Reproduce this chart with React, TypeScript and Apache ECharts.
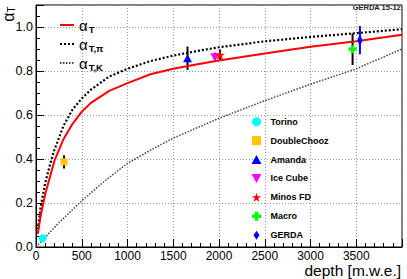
import React, { useEffect, useRef } from 'react';
import * as echarts from 'echarts';

// ---- data ----
const curveDepth = [20, 50, 100, 150, 200, 300, 400, 500, 600, 800, 1000, 1250, 1500, 1750, 2000, 2500, 3000, 3500, 4000];
const alphaT = [0.06, 0.14, 0.24, 0.315, 0.39, 0.49, 0.56, 0.615, 0.655, 0.71, 0.745, 0.785, 0.81, 0.83, 0.848, 0.88, 0.91, 0.935, 0.965];
const alphaTpi = [0.08, 0.18, 0.29, 0.37, 0.44, 0.55, 0.625, 0.675, 0.715, 0.775, 0.81, 0.845, 0.87, 0.89, 0.908, 0.935, 0.955, 0.972, 0.99];
const kaonDepth = [0, 250, 500, 750, 1000, 1250, 1500, 2000, 2500, 3000, 3500, 4000];
const alphaTK = [0, 0.11, 0.21, 0.3, 0.38, 0.44, 0.495, 0.585, 0.665, 0.74, 0.81, 0.9];

const experiments = ['Torino', 'DoubleChooz', 'Amanda', 'Ice Cube', 'Minos FD', 'Macro', 'GERDA'];
const expDepth = [73, 306, 1656, 1955, 2010, 3460, 3540];
const expAlpha = [0.04, 0.387, 0.858, 0.862, 0.873, 0.899, 0.94];
const expErr = [0, 0.03, 0.053, 0.021, 0.025, 0.072, 0.064];

const curveNames = ['aT', 'aTpi', 'aTK'];
const curveLabels = ['{a|α}{s|T}', '{a|α}{s|T,π}', '{a|α}{s|T,K}'];

const xTickStep = 500;
const yTickStep = 0.2;

// ---- styles ----
const expColor = ['#00ffff', '#ffc400', '#0000ff', '#ff00ff', '#ff0000', '#00ff00', '#0000ff'];
const expSymbol = [
  'circle',
  'path://M0,0H10V10H0Z',
  'path://M5,0L10,9L0,9Z',
  'path://M0,0L10,0L5,9Z',
  'path://M5,0L6.2,3.6L10,3.6L6.9,5.8L8.1,9.5L5,7.2L1.9,9.5L3.1,5.8L0,3.6L3.8,3.6Z',
  'path://M3,0H7V3H10V7H7V10H3V7H0V3H3Z',
  'path://M4,0L8,6L4,12L0,6Z',
];
const expSize: any[] = [8, 7, 9, 9, 10, 8, [8, 12]];
const FONT = 'Liberation Sans, Arial, Helvetica, sans-serif';

const lineLegend = (name: string, top: number) => ({
  data: [name],
  orient: 'vertical',
  left: 59,
  top,
  padding: 0,
  itemGap: 0,
  itemWidth: 14,
  itemHeight: 10,
  itemStyle: { color: 'rgba(0,0,0,0)', borderWidth: 0, opacity: 0 },
  formatter: (n: string) => curveLabels[curveNames.indexOf(n)],
  textStyle: {
    color: '#000',
    fontFamily: FONT,
    rich: {
      a: { fontSize: 15, fontFamily: FONT, color: '#000', lineHeight: 19 },
      s: { fontSize: 9.5, fontWeight: 'bold', fontFamily: FONT, color: '#000', lineHeight: 10, verticalAlign: 'bottom', padding: [0, 0, 0, 1] },
    },
  },
});

export default function App() {
  const ref = useRef<HTMLDivElement>(null);
  useEffect(() => {
    document.body.style.margin = '0';
    if (!ref.current) return;
    const chart = echarts.init(ref.current, undefined, { renderer: 'svg' });

    const errData = experiments
      .map((n, i) => ({ n, i }))
      .filter((o) => expErr[o.i] > 0)
      .map((o) => ({
        value: [expDepth[o.i], expAlpha[o.i] - expErr[o.i], expAlpha[o.i] + expErr[o.i]],
        name: o.n,
      }));

    const option: any = {
      animation: false,
      backgroundColor: '#fff',
      grid: { left: 36, right: 5, top: 5, bottom: 32, show: true, borderColor: '#000', borderWidth: 1, outerBoundsMode: 'none' },
      xAxis: {
        type: 'value',
        min: 0,
        max: 4000,
        interval: xTickStep,
        axisLine: { show: true, onZero: false, lineStyle: { color: '#000', width: 1 } },
        axisTick: { show: true, inside: true, length: 8, lineStyle: { color: '#000' } },
        minorTick: { show: true, splitNumber: 5, length: 4, lineStyle: { color: '#000' } },
        axisLabel: {
          showMaxLabel: false,
          color: '#000',
          fontFamily: FONT,
          fontSize: 12,
          lineHeight: 10,
          margin: 3.5,
          formatter: (v: number) => String(v),
        },
        splitLine: { show: true, lineStyle: { color: '#999', type: [1, 2], width: 1 } },
      },
      yAxis: {
        type: 'value',
        min: 0,
        max: 1.1,
        interval: yTickStep,
        axisLine: { show: true, onZero: false, lineStyle: { color: '#000', width: 1 } },
        axisTick: { show: true, inside: true, length: 8, lineStyle: { color: '#000' } },
        minorTick: { show: true, splitNumber: 4, length: 4, lineStyle: { color: '#000' } },
        axisLabel: {
          showMaxLabel: false,
          color: '#000',
          fontFamily: FONT,
          fontSize: 12.5,
          margin: 3,
          formatter: (v: number) => v.toFixed(1),
        },
        splitLine: { show: true, lineStyle: { color: '#999', type: [1, 2], width: 1 } },
      },
      legend: [
        lineLegend(curveNames[0], 17.5),
        lineLegend(curveNames[1], 36.5),
        lineLegend(curveNames[2], 55.5),
        {
          data: experiments,
          orient: 'vertical',
          left: 251.5,
          top: 112.3,
          padding: 0,
          itemGap: 0,
          itemWidth: 18,
          itemHeight: 9,
          textStyle: { color: '#000', fontFamily: FONT, fontWeight: 'bold', fontSize: 9, lineHeight: 18.9 },
        },
      ],
      graphic: [
        {
          type: 'text',
          right: 6,
          top: 3,
          style: { text: 'GERDA 15-12', fill: '#222', font: `bold 7.5px ${FONT}` },
        },
        {
          type: 'text',
          right: 6,
          top: 262.5,
          style: { text: 'depth [m.w.e.]', fill: '#000', font: `15.5px ${FONT}`, lineHeight: 15.5 },
        },
        {
          type: 'group',
          x: 8,
          y: 14,
          rotation: Math.PI / 2,
          children: [
            {
              type: 'text',
              style: {
                text: '{a|α}{s|T}',
                align: 'center',
                verticalAlign: 'middle',
                rich: {
                  a: { fontSize: 16, fontFamily: FONT, color: '#000', lineHeight: 16 },
                  s: { fontSize: 10, fontFamily: FONT, color: '#000', lineHeight: 10, verticalAlign: 'bottom' },
                },
              },
            },
          ],
        },
      ],
      series: [
        {
          name: 'aTK',
          type: 'line',
          data: kaonDepth.map((d, i) => [d, alphaTK[i]]),
          smooth: false,
          showSymbol: false,
          symbol: 'none',
          lineStyle: { color: '#444', width: 1.5, type: [1.5, 1.5] },
          itemStyle: { color: '#444' },
        },
        {
          name: 'aTpi',
          type: 'line',
          data: curveDepth.map((d, i) => [d, alphaTpi[i]]),
          smooth: false,
          showSymbol: false,
          symbol: 'none',
          lineStyle: { color: '#000', width: 2.2, type: [2, 2] },
          itemStyle: { color: '#000' },
        },
        {
          name: 'aT',
          type: 'line',
          data: curveDepth.map((d, i) => [d, alphaT[i]]),
          smooth: false,
          showSymbol: false,
          symbol: 'none',
          lineStyle: { color: '#ff0000', width: 2 },
          itemStyle: { color: '#ff0000' },
        },
        {
          name: 'errors',
          type: 'custom',
          data: errData,
          z: 3,
          renderItem: (params: any, api: any) => {
            const p1 = api.coord([api.value(0), api.value(1)]);
            const p2 = api.coord([api.value(0), api.value(2)]);
            const nm = errData[params.dataIndex].name;
            return {
              type: 'line',
              shape: { x1: p1[0], y1: p1[1], x2: p2[0], y2: p2[1] },
              style: { stroke: nm === 'GERDA' ? '#0000ff' : '#000', lineWidth: 2 },
            };
          },
        },
        ...experiments.map((n, i) => ({
          name: n,
          type: 'scatter',
          z: 4,
          data: [[expDepth[i], expAlpha[i]]],
          symbol: expSymbol[i],
          symbolSize: expSize[i],
          symbolKeepAspect: true,
          itemStyle: { color: expColor[i], opacity: 1 },
        })),
      ],
    };
    chart.setOption(option);
    return () => chart.dispose();
  }, []);
  return <div ref={ref} style={{ width: 407, height: 279 }} />;
}
